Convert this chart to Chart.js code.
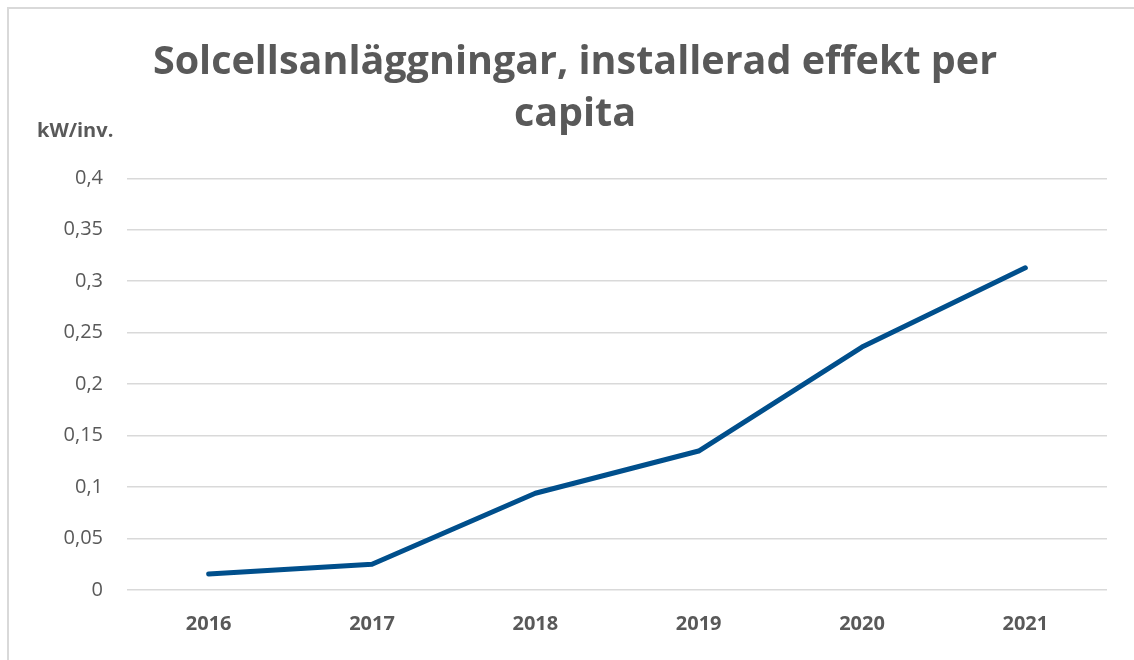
<!DOCTYPE html>
<html>
<head>
<meta charset="utf-8">
<script src="https://cdn.jsdelivr.net/npm/chart.js@4"></script>
<style>
  html, body { margin: 0; padding: 0; background: #fff; overflow: hidden; }
  #frame { position: absolute; left: 7px; top: 7px; width: 1140px; height: 670px; border: 2px solid #d9d9d9; box-sizing: border-box; }
  #chart { position: absolute; left: 0; top: 0; }
</style>
</head>
<body>
<div id="frame"></div>
<canvas id="chart" width="1134" height="660"></canvas>
<script>
// data
var years = ['2016', '2017', '2018', '2019', '2020', '2021'];
var kwPerInv = [0.0155, 0.025, 0.094, 0.135, 0.236, 0.313];
var titleLines = ['Solcellsanläggningar, installerad effekt per', 'capita'];
var unitLabel = 'kW/inv.';

var grey = '#595959';
var font = "'Open Sans', 'DejaVu Sans', sans-serif";

// draws the unit label above the y axis
var unitPlugin = {
  id: 'unitLabel',
  afterDraw: function(chart) {
    var ctx = chart.ctx;
    ctx.save();
    ctx.font = 'bold 20px ' + font;
    ctx.fillStyle = grey;
    ctx.textAlign = 'left';
    ctx.textBaseline = 'alphabetic';
    ctx.fillText(unitLabel, 37, 137);
    ctx.restore();
  }
};

var chart = new Chart(document.getElementById('chart'), {
  type: 'line',
  data: {
    labels: years,
    datasets: [{
      data: kwPerInv,
      borderColor: '#004f8c',
      borderWidth: 5,
      pointRadius: 0,
      fill: false,
      tension: 0,
      borderCapStyle: 'round',
      borderJoinStyle: 'round'
    }]
  },
  options: {
    responsive: false,
    animation: false,
    layout: { padding: { left: 43, right: 27, top: 0, bottom: 0 } },
    plugins: {
      legend: { display: false },
      tooltip: { enabled: false },
      title: {
        display: true,
        text: titleLines,
        color: grey,
        font: { family: font, size: 39.5, weight: 'bold', lineHeight: 1.32 },
        padding: { top: 37, bottom: 37 }
      }
    },
    scales: {
      x: {
        offset: true,
        grid: { display: false },
        border: { display: false },
        ticks: { color: grey, font: { family: font, size: 20, weight: 'bold' }, padding: 14 },
        afterFit: function(s) { s.height = 70; }
      },
      y: {
        min: 0,
        max: 0.4,
        border: { display: false },
        grid: { color: '#d9d9d9', lineWidth: 1.5, drawTicks: false },
        ticks: {
          stepSize: 0.05,
          color: grey,
          padding: 24,
          font: { family: font, size: 20 },
          callback: function(v) { return String(Math.round(v * 100) / 100).replace('.', ','); }
        },
        afterFit: function(s) { s.width = 84; }
      }
    }
  },
  plugins: [unitPlugin]
});
</script>
</body>
</html>
